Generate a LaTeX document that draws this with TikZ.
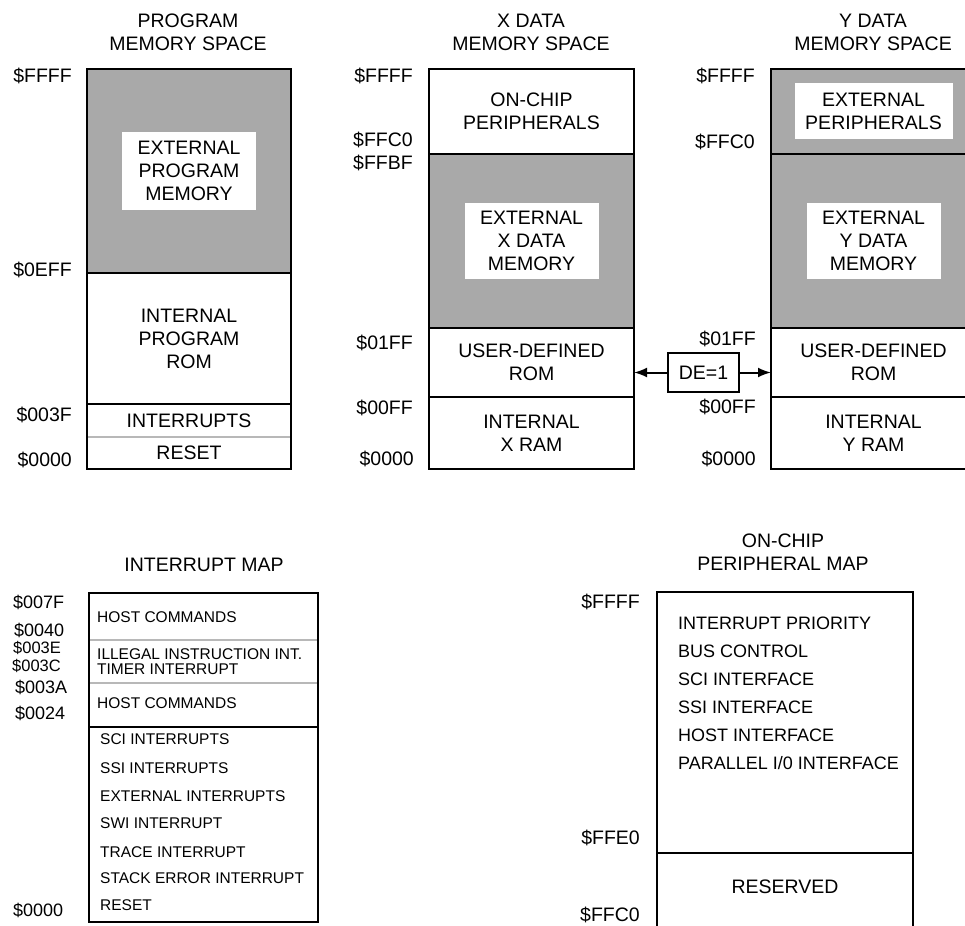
\documentclass[tikz,border=0pt]{standalone}
\usepackage{fontspec}
\setmainfont{Liberation Sans}
\usetikzlibrary{arrows.meta,positioning}
\usepackage{xcolor}
\definecolor{memgray}{HTML}{A9A9A9}
\definecolor{linegray}{HTML}{B8B8B8}
\newcommand{\memfont}{\fontsize{19.5}{23}\selectfont}
\newcommand{\adrfont}{\fontsize{19.5}{23}\selectfont}
\newcommand{\intfont}{\fontsize{15.5}{15}\selectfont}
\newcommand{\iadrfont}{\fontsize{18}{20}\selectfont}
\newcommand{\perfont}{\fontsize{18}{22}\selectfont}
\tikzset{
  region/.style={anchor=north west, inner sep=0pt, outer sep=0pt, align=center, font=\memfont},
  graybox/.style={region, fill=memgray},
  patch/.style={fill=white, inner sep=0pt, outer sep=0pt, align=center, font=\memfont},
  title/.style={align=center, inner sep=0pt, font=\memfont},
  addr/.style={anchor=east, inner sep=0pt, font=\adrfont},
  iaddr/.style={anchor=west, inner sep=0pt, text depth=0pt, font=\iadrfont},
  inttext/.style={anchor=west, inner sep=0pt, font=\intfont},
  pertext/.style={anchor=west, inner sep=0pt, font=\perfont},
  mapbox/.style={anchor=north west, inner sep=0pt, outer sep=0pt},
  frame/.style={draw=black, line width=2.6pt},
  mapframe/.style={draw=black, line width=2.2pt},
  divider/.style={draw=black, line width=2.2pt},
  thinline/.style={draw=linegray, line width=1.4pt},
  debox/.style={draw=black, line width=2.2pt, inner sep=0pt, minimum width=71, minimum height=39, font=\memfont},
  arrow/.style={-{Latex[length=13pt, width=10pt]}, line width=2pt, draw=black}
}

\begin{document}
\begin{tikzpicture}[x=1pt, y=-1pt]
  \useasboundingbox (0,0) rectangle (965,925);
  \clip (0,0) rectangle (965,925);

  % program memory space
  \node[title] (ptitle) at (188,32.5) {PROGRAM\\MEMORY SPACE};
  \node[graybox, minimum width=204, minimum height=204] (pext) at (87,69) {};
  \node[patch, minimum width=134, minimum height=78] (pextl) at (pext.center) {EXTERNAL\\PROGRAM\\MEMORY};
  \node[region, minimum width=204, minimum height=131] (prom) at (pext.south west) {INTERNAL\\PROGRAM\\ROM};
  \node[region, minimum width=204, minimum height=33] (pint) at (prom.south west) {INTERRUPTS};
  \node[region, minimum width=204, minimum height=32] (prst) at (pint.south west) {RESET};
  \draw[thinline] (pint.south west) -- (pint.south east);
  \draw[divider] (pext.south west) -- (pext.south east);
  \draw[divider] (prom.south west) -- (prom.south east);
  \draw[frame] (pext.north west) rectangle (prst.south east);
  \node[addr] (pa1) at (72,76) {\$FFFF};
  \node[addr] (pa2) at (72,270) {\$0EFF};
  \node[addr] (pa3) at (72,415) {\$003F};
  \node[addr] (pa4) at (72,460) {\$0000};

  % x data memory space
  \node[title] (xtitle) at (531,32.5) {X DATA\\MEMORY SPACE};
  \node[region, minimum width=205, minimum height=85] (xper) at (429,69) {ON-CHIP\\PERIPHERALS};
  \node[graybox, minimum width=205, minimum height=174] (xext) at (xper.south west) {};
  \node[patch, minimum width=134, minimum height=76] (xextl) at (xext.center) {EXTERNAL\\X DATA\\MEMORY};
  \node[region, minimum width=205, minimum height=69] (xrom) at (xext.south west) {USER-DEFINED\\ROM};
  \node[region, minimum width=205, minimum height=72] (xram) at (xrom.south west) {INTERNAL\\X RAM};
  \draw[divider] (xper.south west) -- (xper.south east);
  \draw[divider] (xext.south west) -- (xext.south east);
  \draw[divider] (xrom.south west) -- (xrom.south east);
  \draw[frame] (xper.north west) rectangle (xram.south east);
  \node[addr] (xa1) at (413,76) {\$FFFF};
  \node[addr] (xa2) at (413,140) {\$FFC0};
  \node[addr] (xa3) at (413,163) {\$FFBF};
  \node[addr] (xa4) at (413,343) {\$01FF};
  \node[addr] (xa5) at (413,408) {\$00FF};
  \node[addr] (xa6) at (414,459) {\$0000};

  % y data memory space
  \node[title] (ytitle) at (873,32.5) {Y DATA\\MEMORY SPACE};
  \node[graybox, minimum width=205, minimum height=85] (yper) at (771,69) {};
  \node[patch, minimum width=158, minimum height=56] (yperl) at (yper.center) {EXTERNAL\\PERIPHERALS};
  \node[graybox, minimum width=205, minimum height=174] (yext) at (yper.south west) {};
  \node[patch, minimum width=134, minimum height=76] (yextl) at (yext.center) {EXTERNAL\\Y DATA\\MEMORY};
  \node[region, minimum width=205, minimum height=69] (yrom) at (yext.south west) {USER-DEFINED\\ROM};
  \node[region, minimum width=205, minimum height=72] (yram) at (yrom.south west) {INTERNAL\\Y RAM};
  \draw[divider] (yper.south west) -- (yper.south east);
  \draw[divider] (yext.south west) -- (yext.south east);
  \draw[divider] (yrom.south west) -- (yrom.south east);
  \draw[frame] (yper.north west) rectangle (yram.south east);
  \node[addr] (ya1) at (755,76) {\$FFFF};
  \node[addr] (ya2) at (755,142) {\$FFC0};
  \node[addr] (ya3) at (756,339) {\$01FF};
  \node[addr] (ya4) at (756,407) {\$00FF};
  \node[addr] (ya5) at (756,459) {\$0000};

  % DE bit selects the user rom
  \node[debox] (de) at (703.5,372.5) {DE=1};
  \draw[arrow] (de.west) -- (de.west -| xrom.east);
  \draw[arrow] (de.east) -- (de.east -| yrom.west);

  % interrupt map
  \node[title] (ititle) at (204,565) {INTERRUPT MAP};
  \node[mapbox, minimum width=229, minimum height=47] (ihosta) at (89,593) {};
  \node[mapbox, minimum width=229, minimum height=43] (iill) at (ihosta.south west) {};
  \node[mapbox, minimum width=229, minimum height=44] (ihostb) at (iill.south west) {};
  \node[mapbox, minimum width=229, minimum height=195] (ivec) at (ihostb.south west) {};
  \draw[thinline] (ihosta.south west) -- (ihosta.south east);
  \draw[thinline] (iill.south west) -- (iill.south east);
  \draw[divider] (ihostb.south west) -- (ihostb.south east);
  \draw[mapframe] (ihosta.north west) rectangle (ivec.south east);
  \node[inttext] (t1) at (97,617) {HOST COMMANDS};
  \node[inttext] (t2) at (97,654) {ILLEGAL INSTRUCTION INT.};
  \node[inttext] (t3) at (97,669) {TIMER INTERRUPT};
  \node[inttext] (t4) at (97,703) {HOST COMMANDS};
  \node[inttext] (t5) at (100,739) {SCI INTERRUPTS};
  \node[inttext] (t6) at (100,768) {SSI INTERRUPTS};
  \node[inttext] (t7) at (100,796) {EXTERNAL INTERRUPTS};
  \node[inttext] (t8) at (100,823) {SWI INTERRUPT};
  \node[inttext] (t9) at (100,852) {TRACE INTERRUPT};
  \node[inttext] (t10) at (100,878) {STACK ERROR INTERRUPT};
  \node[inttext] (t11) at (100,905) {RESET};
  \node[iaddr] (ia1) at (13,602) {\$007F};
  \node[iaddr] (ia2) at (14,630) {\$0040};
  \node[iaddr, font=\fontsize{16.5}{18}\selectfont] (ia3) at (13,647.5) {\$003E};
  \node[iaddr, font=\fontsize{16.5}{18}\selectfont] (ia4) at (12,665.5) {\$003C};
  \node[iaddr] (ia5) at (15,687) {\$003A};
  \node[iaddr] (ia6) at (15,713) {\$0024};
  \node[iaddr] (ia7) at (13,910) {\$0000};

  % on-chip peripheral map
  \node[title] (otitle) at (783,552) {ON-CHIP\\PERIPHERAL MAP};
  \node[mapbox, minimum width=256, minimum height=261] (operi) at (657,592) {};
  \node[mapbox, minimum width=256, minimum height=100] (oresv) at (operi.south west) {};
  \draw[divider] (operi.south west) -- (operi.south east);
  \draw[frame] (oresv.south west) |- (operi.north east) -- (oresv.south east);
  \node[pertext] (o1) at (678,623) {INTERRUPT PRIORITY};
  \node[pertext] (o2) at (678,651) {BUS CONTROL};
  \node[pertext] (o3) at (678,679) {SCI INTERFACE};
  \node[pertext] (o4) at (678,707) {SSI INTERFACE};
  \node[pertext] (o5) at (678,735) {HOST INTERFACE};
  \node[pertext] (o6) at (678,763) {PARALLEL I/0 INTERFACE};
  \node[title] (o7) at (785,887) {RESERVED};
  \node[addr] (oa1) at (640,602) {\$FFFF};
  \node[addr] (oa2) at (640,838) {\$FFE0};
  \node[addr] (oa3) at (640,915) {\$FFC0};
\end{tikzpicture}
\end{document}
